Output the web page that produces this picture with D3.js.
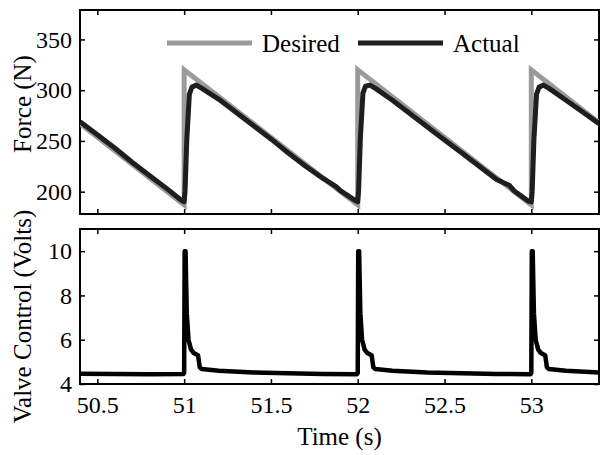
<!DOCTYPE html>
<html>
<head>
<meta charset="utf-8">
<script src="https://cdn.jsdelivr.net/npm/d3@7"></script>
<style>
  body { margin: 0; background: #fff; }
  svg { display: block; }
  svg text { font-family: "Liberation Serif", "Times New Roman", Times, "DejaVu Serif", serif; }
</style>
</head>
<body>
<script>
// desired force (sawtooth)
const timeDesired = [50.4, 51.0, 51.0, 52.0, 52.0, 53.0, 53.0, 53.39];
const forceDesired = [267, 187, 320, 187, 320, 187, 320, 268];

// measured force
const timeActual = [50.4, 50.5, 50.6, 50.7, 50.8, 50.9, 50.98, 51.0, 51.005, 51.015, 51.03, 51.045, 51.07, 51.1,
  51.2, 51.3, 51.4, 51.5, 51.6, 51.7, 51.8, 51.875, 51.9, 51.98, 52.0, 52.005, 52.015, 52.03, 52.045, 52.07,
  52.1, 52.2, 52.3, 52.4, 52.5, 52.6, 52.7, 52.8, 52.875, 52.9, 52.98, 53.0, 53.005, 53.015, 53.03, 53.045,
  53.07, 53.1, 53.2, 53.3, 53.39];
const forceActual = [269, 256, 243, 229, 216, 203, 192, 190, 200, 250, 296, 303, 305, 302,
  291, 278, 265, 252, 238, 225, 213, 205, 201, 192, 190, 201, 252, 297, 304, 305,
  302, 290, 277, 264, 251, 238, 225, 212, 206, 201, 191, 190, 200, 251, 296, 303,
  305, 302, 290, 278, 267];

// valve control voltage
const timeValve = [50.4, 50.6, 50.8, 50.995, 51.0, 51.003, 51.008, 51.015, 51.025, 51.04, 51.055, 51.08, 51.09,
  51.1, 51.2, 51.4, 51.6, 51.8, 51.995, 52.0, 52.003, 52.008, 52.015, 52.025, 52.04, 52.055, 52.08, 52.09,
  52.1, 52.2, 52.4, 52.6, 52.8, 52.995, 53.0, 53.003, 53.008, 53.015, 53.025, 53.04, 53.055, 53.08, 53.09,
  53.1, 53.2, 53.39];
const voltsValve = [4.46, 4.45, 4.44, 4.45, 4.5, 10, 10, 7.2, 6.0, 5.55, 5.4, 5.3, 4.75,
  4.68, 4.6, 4.52, 4.48, 4.45, 4.44, 4.5, 10, 10, 7.2, 6.0, 5.55, 5.4, 5.3, 4.75,
  4.68, 4.6, 4.52, 4.48, 4.45, 4.44, 4.5, 10, 10, 7.2, 6.0, 5.55, 5.4, 5.3, 4.75,
  4.68, 4.6, 4.52];

const xTicks = [50.5, 51, 51.5, 52, 52.5, 53];
const forceTicks = [200, 250, 300, 350];
const voltTicks = [4, 6, 8, 10];
const legendNames = ["Desired", "Actual"];
const lineColors = ["#9a9a9a", "#1e1e1e"];

const serif = "'Liberation Serif', 'Times New Roman', Times, 'DejaVu Serif', serif";

const w = 600, h = 455;
const left = 80, right = 599;
const top1 = 10, bot1 = 214;
const top2 = 229, bot2 = 384;

const svg = d3.select("body").append("svg").attr("width", w).attr("height", h)
  .attr("font-family", serif);

const x = d3.scaleLinear().domain([50.4, 53.39]).range([left, right]);
const yF = d3.scaleLinear().domain([178, 379]).range([bot1, top1]);
const yV = d3.scaleLinear().domain([4, 11]).range([bot2, top2]);

function panel(y, yt, top, bot, showX, id) {
  const g = svg.append("g");
  g.append("clipPath").attr("id", id)
    .append("rect").attr("x", left).attr("y", top).attr("width", right - left).attr("height", bot - top);

  g.append("g").attr("transform", "translate(0," + bot + ")")
    .call(d3.axisBottom(x).tickValues(xTicks).tickSizeInner(-5).tickSizeOuter(0).tickPadding(12)
      .tickFormat(showX ? d3.format("") : () => ""));
  g.append("g").attr("transform", "translate(0," + top + ")")
    .call(d3.axisTop(x).tickValues(xTicks).tickSizeInner(-5).tickSizeOuter(0).tickFormat(() => ""));
  g.append("g").attr("transform", "translate(" + left + ",0)")
    .call(d3.axisLeft(y).tickValues(yt).tickSizeInner(-5).tickSizeOuter(0).tickPadding(8)
      .tickFormat(d3.format("d")));
  g.append("g").attr("transform", "translate(" + right + ",0)")
    .call(d3.axisRight(y).tickValues(yt).tickSizeInner(-5).tickSizeOuter(0).tickFormat(() => ""));

  g.selectAll(".domain").remove();
  g.selectAll("g").attr("font-family", serif).attr("font-size", 24);
  g.selectAll(".tick line").attr("stroke", "#000").attr("stroke-width", 1.5);
  g.selectAll(".tick text").attr("fill", "#000");

  g.append("rect").attr("x", left).attr("y", top).attr("width", right - left).attr("height", bot - top)
    .attr("fill", "none").attr("stroke", "#000").attr("stroke-width", 2);
  return g;
}

const g1 = panel(yF, forceTicks, top1, bot1, false, "clip1");
const g2 = panel(yV, voltTicks, top2, bot2, true, "clip2");

const lineF = d3.line().x(d => x(d[0])).y(d => yF(d[1]));
const lineV = d3.line().x(d => x(d[0])).y(d => yV(d[1]));

g1.append("path")
  .datum(d3.zip(timeDesired, forceDesired))
  .attr("clip-path", "url(#clip1)")
  .attr("d", lineF).attr("fill", "none")
  .attr("stroke", lineColors[0]).attr("stroke-width", 5).attr("stroke-linejoin", "miter");

g1.append("path")
  .datum(d3.zip(timeActual, forceActual))
  .attr("clip-path", "url(#clip1)")
  .attr("d", lineF).attr("fill", "none")
  .attr("stroke", lineColors[1]).attr("stroke-width", 5).attr("stroke-linejoin", "round");

g2.append("path")
  .datum(d3.zip(timeValve, voltsValve))
  .attr("clip-path", "url(#clip2)")
  .attr("d", lineV).attr("fill", "none")
  .attr("stroke", "#000").attr("stroke-width", 4.5).attr("stroke-linejoin", "round");

// legend
const legend = svg.append("g").attr("transform", "translate(167,43)");
legendNames.forEach((name, i) => {
  const lg = legend.append("g").attr("transform", "translate(" + (i * 191) + ",0)");
  lg.append("line").attr("x1", 0).attr("x2", 85).attr("y1", 0).attr("y2", 0)
    .attr("stroke", lineColors[i]).attr("stroke-width", 5);
  lg.append("text").attr("x", 95).attr("y", 9).text(name)
    .attr("font-size", 25).attr("fill", "#000");
});

// axis labels
svg.append("text")
  .attr("transform", "translate(31," + ((top1 + bot1) / 2 - 8) + ") rotate(-90)")
  .attr("text-anchor", "middle").attr("font-size", 25).text("Force (N)");

svg.append("text")
  .attr("transform", "translate(31," + ((top2 + bot2) / 2 + 10) + ") rotate(-90)")
  .attr("text-anchor", "middle").attr("font-size", 25).text("Valve Control (Volts)");

svg.append("text")
  .attr("x", (left + right) / 2).attr("y", 445)
  .attr("text-anchor", "middle").attr("font-size", 25).text("Time (s)");
</script>
</body>
</html>
